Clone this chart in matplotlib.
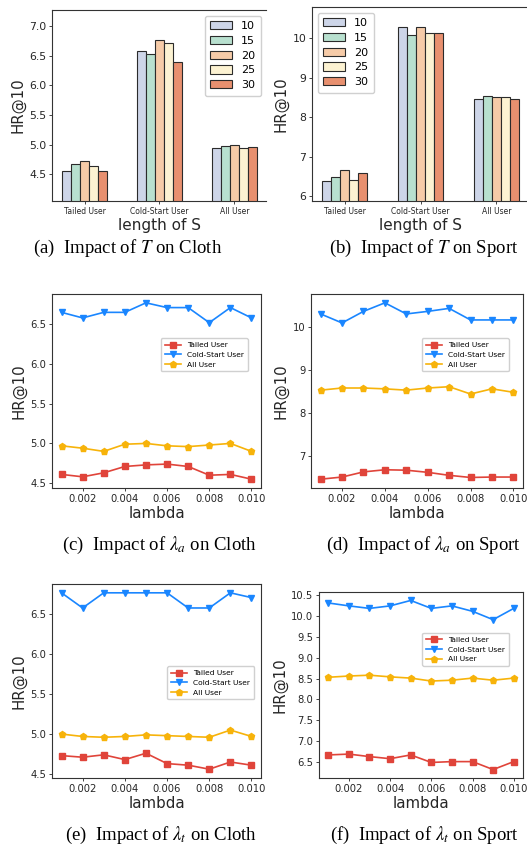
import matplotlib
matplotlib.use("Agg")
import matplotlib.pyplot as plt
import numpy as np

plt.rcParams['mathtext.fontset'] = 'stix'

# ---------------- data ----------------
groups = ["Tailed User", "Cold-Start User", "All User"]
lengths = ["10", "15", "20", "25", "30"]
bar_colors = ["#CDD5E8", "#B8E0CF", "#F6CBA8", "#FCF2D2", "#E8906F"]

# (a) Cloth, rows = length, cols = groups
cloth_T = {
    "10": [4.55, 6.58, 4.94],
    "15": [4.68, 6.52, 4.97],
    "20": [4.73, 6.77, 5.00],
    "25": [4.64, 6.71, 4.95],
    "30": [4.56, 6.39, 4.96],
}
# (b) Sport
sport_T = {
    "10": [6.37, 10.30, 8.46],
    "15": [6.48, 10.09, 8.54],
    "20": [6.67, 10.30, 8.52],
    "25": [6.40, 10.15, 8.52],
    "30": [6.57, 10.15, 8.46],
}

lam = [0.001, 0.002, 0.003, 0.004, 0.005, 0.006, 0.007, 0.008, 0.009, 0.010]
lam_ticks = [0.002, 0.004, 0.006, 0.008, 0.010]

# (c) lambda_a on Cloth
c_tailed = [4.61, 4.58, 4.63, 4.71, 4.73, 4.74, 4.71, 4.60, 4.61, 4.55]
c_cold = [6.65, 6.58, 6.65, 6.65, 6.77, 6.71, 6.71, 6.52, 6.71, 6.58]
c_all = [4.97, 4.94, 4.90, 4.99, 5.00, 4.97, 4.96, 4.98, 5.00, 4.90]
# (d) lambda_a on Sport
d_tailed = [6.45, 6.50, 6.62, 6.67, 6.66, 6.61, 6.54, 6.49, 6.50, 6.50]
d_cold = [10.31, 10.10, 10.37, 10.57, 10.31, 10.37, 10.44, 10.17, 10.17, 10.17]
d_all = [8.53, 8.58, 8.58, 8.56, 8.53, 8.58, 8.61, 8.44, 8.56, 8.48]
# (e) lambda_t on Cloth
e_tailed = [4.73, 4.71, 4.74, 4.68, 4.76, 4.63, 4.61, 4.56, 4.65, 4.61]
e_cold = [6.77, 6.58, 6.77, 6.77, 6.77, 6.77, 6.58, 6.58, 6.77, 6.71]
e_all = [5.00, 4.97, 4.96, 4.97, 4.99, 4.98, 4.97, 4.96, 5.05, 4.97]
# (f) lambda_t on Sport
f_tailed = [6.67, 6.69, 6.63, 6.58, 6.67, 6.49, 6.51, 6.51, 6.32, 6.51]
f_cold = [10.31, 10.24, 10.18, 10.24, 10.37, 10.18, 10.24, 10.11, 9.91, 10.18]
f_all = [8.53, 8.56, 8.58, 8.54, 8.51, 8.44, 8.46, 8.51, 8.46, 8.51]

line_labels = ["Tailed User", "Cold-Start User", "All User"]
line_colors = ["#E0443A", "#1A86FF", "#F7B30A"]
line_markers = ["s", "v", "p"]

captions = [
    r"(a)  Impact of $T$ on Cloth",
    r"(b)  Impact of $T$ on Sport",
    r"(c)  Impact of $\lambda_a$ on Cloth",
    r"(d)  Impact of $\lambda_a$ on Sport",
    r"(e)  Impact of $\lambda_t$ on Cloth",
    r"(f)  Impact of $\lambda_t$ on Sport",
]

# ---------------- figure ----------------
W, H = 527, 846
fig = plt.figure(figsize=(W / 100, H / 100), dpi=100)


def box(l, r, t, b):
    return [l / W, 1 - b / H, (r - l) / W, (b - t) / H]


TXT = "#262626"


def style(ax, tick_fs):
    ax.tick_params(axis="both", labelsize=tick_fs, colors=TXT, length=2.5,
                   width=0.6, pad=1.5)
    for s in ax.spines.values():
        s.set_linewidth(0.8)
        s.set_color("#333333")


def bar_panel(rect, data, legend_loc, hide_right):
    ax = fig.add_axes(rect)
    x = np.arange(len(groups))
    w = 0.12
    allv = []
    for i, k in enumerate(lengths):
        vals = data[k]
        allv += vals
        ax.bar(x + (i - 2) * w, vals, w, color=bar_colors[i],
               edgecolor="#2b2b2b", linewidth=0.8, label=k)
    ax.set_ylim(min(allv) - 0.5, max(allv) + 0.5)
    ax.set_xticks(x)
    ax.set_xticklabels(groups)
    style(ax, 7.8)
    ax.tick_params(axis="x", labelsize=5.5)
    ax.set_xlabel("length of S", fontsize=11, color=TXT, labelpad=1.5)
    ax.set_ylabel("HR@10", fontsize=10.8, color=TXT, labelpad=3)
    if hide_right:
        ax.spines["right"].set_visible(False)
    ax.legend(loc=legend_loc, fontsize=8, handlelength=2.0, handleheight=0.75,
              borderpad=0.5, labelspacing=0.43, framealpha=1,
              edgecolor="#d0d0d0", fancybox=True)
    return ax


def line_panel(rect, series, yticks, legend_anchor, legend_loc="upper right"):
    ax = fig.add_axes(rect)
    for vals, lab, c, m in zip(series, line_labels, line_colors, line_markers):
        ax.plot(lam, vals, color=c, marker=m, markersize=4.8, linewidth=1.2,
                label=lab)
    ax.set_xticks(lam_ticks)
    ax.set_xticklabels([f"{v:.3f}" for v in lam_ticks])
    ax.set_yticks(yticks)
    style(ax, 7.2)
    ax.set_xlabel("lambda", fontsize=10.8, color=TXT, labelpad=1.5)
    ax.set_ylabel("HR@10", fontsize=10.8, color=TXT, labelpad=3)
    ax.legend(loc=legend_loc, bbox_to_anchor=legend_anchor, fontsize=5.4,
              handlelength=2.2, borderpad=0.5, labelspacing=0.45,
              framealpha=1, edgecolor="#d0d0d0")
    return ax


bar_panel(box(52.3, 266.5, 10, 201), cloth_T, "upper right", True)
bar_panel(box(312, 529, 7, 201), sport_T, "upper left", False)

line_panel(box(52, 261, 294, 488), [c_tailed, c_cold, c_all],
           [4.5, 5.0, 5.5, 6.0, 6.5], (0.955, 0.79))
line_panel(box(311, 523, 294, 488), [d_tailed, d_cold, d_all],
           [7, 8, 9, 10], (0.95, 0.79))
line_panel(box(52, 261, 584, 778), [e_tailed, e_cold, e_all],
           [4.5, 5.0, 5.5, 6.0, 6.5], (0.985, 0.595))
line_panel(box(319, 523, 592, 778), [f_tailed, f_cold, f_all],
           [6.5, 7.0, 7.5, 8.0, 8.5, 9.0, 9.5, 10.0, 10.5], (0.95, 0.8))

cap_pos = [(33, 248), (329, 248), (62, 545), (326, 545), (65, 835), (330, 835)]
for (cx, cy), t in zip(cap_pos, captions):
    fig.text(cx / W, 1 - cy / H, t, ha="left", va="center", fontsize=13.5,
             family="Liberation Serif", color="black")

fig.savefig("out.png", dpi=100)
